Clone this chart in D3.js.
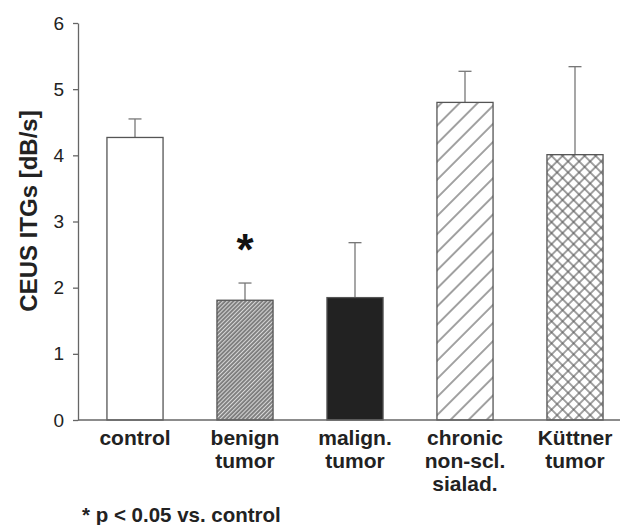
<!DOCTYPE html>
<html><head><meta charset="utf-8">
<script src="https://cdn.jsdelivr.net/npm/d3@7"></script>
<style>body{margin:0;background:#fff}svg{display:block}text{font-family:Arial,"Liberation Sans",Helvetica,sans-serif}</style>
</head><body><div id="chart"></div>
<script>
const categories = [["control"],["benign","tumor"],["malign.","tumor"],["chronic","non-scl.","sialad."],["Küttner","tumor"]];
const values = [4.27, 1.81, 1.85, 4.80, 4.01];
const errors = [0.28, 0.26, 0.83, 0.47, 1.33];
const fills = ["white","url(#benign)","#222","url(#chronic)","url(#kuttner)"];
const yTicks = [0,1,2,3,4,5,6];

const W=620,H=525;
const svg=d3.select("#chart").append("svg").attr("width",W).attr("height",H);
const defs=svg.append("defs");
let p=defs.append("pattern").attr("id","benign").attr("patternUnits","userSpaceOnUse").attr("width",2.9).attr("height",2.9).attr("patternTransform","rotate(45)");
p.append("rect").attr("width",2.9).attr("height",2.9).attr("fill","#d8d8d8");
p.append("line").attr("x1",1).attr("x2",1).attr("y1",0).attr("y2",2.9).attr("stroke","#555").attr("stroke-width",1.3);
p=defs.append("pattern").attr("id","chronic").attr("patternUnits","userSpaceOnUse").attr("width",12.8).attr("height",12.8).attr("patternTransform","rotate(45)");
p.append("rect").attr("width",12.8).attr("height",12.8).attr("fill","#fff");
p.append("line").attr("x1",1).attr("x2",1).attr("y1",0).attr("y2",12.8).attr("stroke","#555").attr("stroke-width",1.1);
p=defs.append("pattern").attr("id","kuttner").attr("patternUnits","userSpaceOnUse").attr("width",7.8).attr("height",7.8).attr("patternTransform","rotate(45)");
p.append("rect").attr("width",7.8).attr("height",7.8).attr("fill","#fff");
p.append("line").attr("x1",1).attr("x2",1).attr("y1",0).attr("y2",7.8).attr("stroke","#555").attr("stroke-width",1.1);
p.append("line").attr("y1",1).attr("y2",1).attr("x1",0).attr("x2",7.8).attr("stroke","#555").attr("stroke-width",1.1);

const x=d3.scaleBand().domain(d3.range(categories.length)).range([80,630]).paddingInner(0.49).paddingOuter(0.245);
const y=d3.scaleLinear().domain([0,6]).range([420,23]);

const eb=svg.append("g").attr("stroke","#777").attr("stroke-width",1.3);
values.forEach((v,i)=>{
  const cx=x(i)+x.bandwidth()/2;
  eb.append("line").attr("x1",cx).attr("x2",cx).attr("y1",y(v)).attr("y2",y(v+errors[i]));
  eb.append("line").attr("x1",cx-6.5).attr("x2",cx+6.5).attr("y1",y(v+errors[i])).attr("y2",y(v+errors[i]));
});
svg.append("g").selectAll("rect").data(values).join("rect")
  .attr("x",(d,i)=>x(i)).attr("width",x.bandwidth())
  .attr("y",d=>y(d)).attr("height",d=>y(0)-y(d))
  .attr("fill",(d,i)=>fills[i]).attr("stroke","#555").attr("stroke-width",1.3);

const ya=svg.append("g").attr("transform","translate(78,0)")
  .call(d3.axisLeft(y).tickValues(yTicks).tickSize(5).tickSizeOuter(0).tickPadding(9).tickFormat(d3.format("d")));
ya.select(".domain").attr("stroke","#666").attr("stroke-width",1.3);
ya.selectAll(".tick line").attr("stroke","#666").attr("stroke-width",1.3);
ya.selectAll(".tick text").attr("font-size",19).attr("fill","#222").attr("font-family","Arial,'Liberation Sans',sans-serif");
svg.append("line").attr("x1",78).attr("x2",620).attr("y1",y(0)).attr("y2",y(0)).attr("stroke","#666").attr("stroke-width",1.3);

const xl=svg.append("g").attr("font-weight","bold").attr("font-size",21).attr("fill","#222").attr("text-anchor","middle");
categories.forEach((lines,i)=>{
  const t=xl.append("text").attr("x",x(i)+x.bandwidth()/2).attr("y",445);
  lines.forEach((s,j)=>t.append("tspan").attr("x",x(i)+x.bandwidth()/2).attr("dy",j?23:0).text(s));
});
svg.append("text").attr("transform","translate(37,211) rotate(-90)").attr("text-anchor","middle")
  .attr("font-weight","bold").attr("font-size",24).attr("fill","#222").text("CEUS ITGs [dB/s]");
svg.append("text").attr("x",x(1)+x.bandwidth()/2).attr("y",265).attr("text-anchor","middle")
  .attr("font-weight","bold").attr("font-size",44).attr("fill","#111").text("*");
svg.append("text").attr("x",82).attr("y",522).attr("font-weight","bold").attr("font-size",20.5).attr("fill","#222").text("* p < 0.05 vs. control");
</script></body></html>
